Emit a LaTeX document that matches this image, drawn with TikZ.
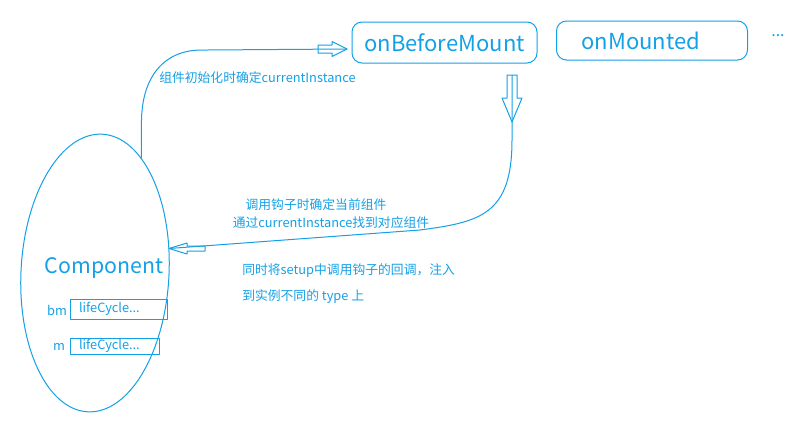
\documentclass[tikz,border=0pt]{standalone}
\usepackage{fontspec}
\setmainfont{Noto Sans CJK SC}
\usetikzlibrary{shapes.geometric}
\definecolor{pblue}{RGB}{20,160,230}
\newlength\px
\setlength\px{0.75pt}
\tikzset{
  link/.style={draw=pblue, line width=0.75pt},
  hook/.style={draw=pblue, line width=0.75pt, rounded corners=10\px, minimum width=185\px, minimum height=41\px, text=pblue, font=\fontsize{16.5}{18}\selectfont},
  note/.style={text=pblue, inner sep=0pt, font=\fontsize{9.6}{11}\selectfont},
  slot/.style={draw=pblue, line width=0.75pt, text=pblue, inner xsep=8.5\px, inner ysep=0pt, align=left, font=\fontsize{9.6}{11}\selectfont}
}
% hollow arrow: tail, angle, length, head length, shaft half, head half
\newcommand\hollowarrow[6]{%
  \draw[link, shift={#1}, rotate=#2] (0,-#5) -- (#3-#4,-#5) -- (#3-#4,-#6) -- (#3,0) -- (#3-#4,#6) -- (#3-#4,#5) -- (0,#5) -- cycle;}
\begin{document}
\begin{tikzpicture}[x=0.75pt, y=-0.75pt, line join=round]
  \useasboundingbox (0,0) rectangle (800,429);
  % hooks
  \node[hook] (beforeMount) at (444.5,42.5) {onBeforeMount};
  \node[hook, minimum width=191\px, minimum height=39\px, inner xsep=25\px, text width=141\px, align=left] (mounted) at (652,40.5) {onMounted};
  \node[note, font=\fontsize{12}{14}\selectfont] (more) at (778,36) {...};
  % component
  \node[ellipse, draw=pblue, line width=0.75pt, minimum width=148\px, minimum height=278\px, rotate=-3] (comp) at (95,273) {};
  \node[text=pblue, font=\fontsize{16}{19}\selectfont] (compName) at (104,268) {Component};
  \node[note] (bmKey) at (57,310) {bm};
  \node[slot, text width=80\px, minimum height=20\px, anchor=west] (bmSlot) at (70,309) {lifeCycle...};
  \node[note] (mKey) at (59,347) {m};
  \node[slot, text width=72\px, minimum height=16\px, anchor=west] (mSlot) at (70,346) {lifeCycle...};
  % arrows
  \coordinate (inTail) at (318,49);
  \coordinate (inTip) at (347,49);
  \coordinate (outTail) at (512,75);
  \coordinate (cTip) at (169,248.5);
  \hollowarrow{(inTail)}{0}{29}{15}{4}{7.5}
  \hollowarrow{(outTail)}{-90}{47}{24}{5}{10}
  \hollowarrow{(205,248.5)}{180}{36}{18}{2.5}{5.5}
  \draw[link] (comp.71) -- ++(0,-35) .. controls +(0,-47) and +(-37,0) .. ++(60,-73) -- (inTip);
  \draw[link] (outTail) -- ++(0,65) .. controls +(0,75) and +(60,-8) .. ++(-92,90) -- (cTip);
  % notes
  \node[note, anchor=west] (initNote) at (159,78) {组件初始化时确定currentInstance};
  \node[note] (callNote) at (316,205) {调用钩子时确定当前组件};
  \node[note] (findNote) at (331,223) {通过currentInstance找到对应组件};
  \node[note, anchor=west] (injNote) at (242,271) {同时将setup中调用钩子的回调，注入};
  \node[note, anchor=west] (typeNote) at (242,297) {到实例不同的 type 上};
\end{tikzpicture}
\end{document}
